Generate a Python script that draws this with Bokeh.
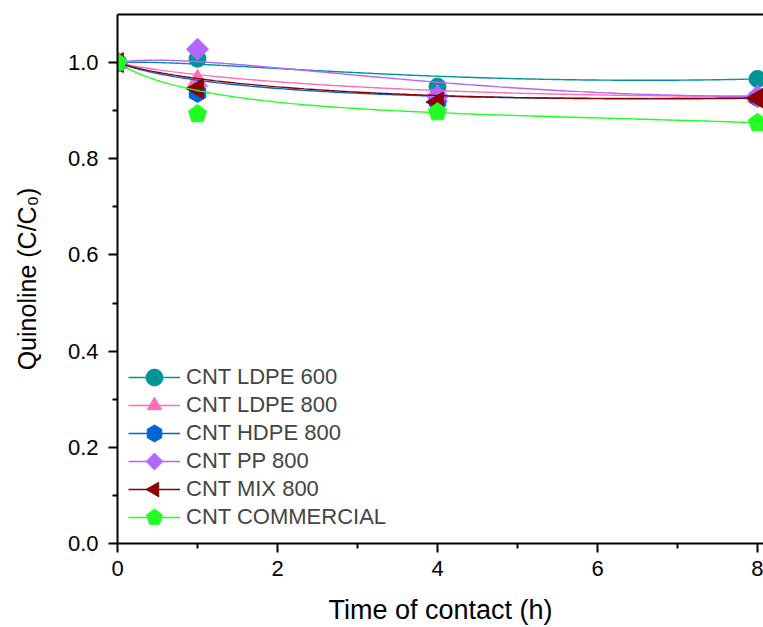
import numpy as np
from math import comb
from bokeh.plotting import figure
from bokeh.models import Range1d, LinearAxis, Legend, LegendItem, NumeralTickFormatter, FixedTicker
from bokeh.embed import file_html
from bokeh.resources import INLINE

# ---- data ----
time_h = [0, 1, 4, 8]
series_names = ["CNT LDPE 600", "CNT LDPE 800", "CNT HDPE 800", "CNT PP 800", "CNT MIX 800", "CNT COMMERCIAL"]
ldpe600 = [1.000, 1.008, 0.950, 0.966]
ldpe800 = [1.000, 0.962, 0.930, 0.930]
hdpe800 = [1.000, 0.937, 0.920, 0.927]
pp800 = [1.000, 1.028, 0.930, 0.930]
mix800 = [1.000, 0.946, 0.918, 0.926]
commercial = [1.000, 0.893, 0.897, 0.875]
x_ticks = [0, 2, 4, 6, 8]
y_ticks = [0.0, 0.2, 0.4, 0.6, 0.8, 1.0]

colors = ["#009494", "#FF6EB4", "#0066D6", "#B266FF", "#8B0000", "#22FF22"]
# (kind, marker or n-sides, size/radius, angle)
styles = [("scatter", "circle", 17, 0),
          ("ngon", 3, 11.5, 0),
          ("ngon", 6, 9.5, 0),
          ("ngon", 4, 11, 0),
          ("ngon", 3, 11.5, np.pi / 2),
          ("ngon", 5, 9.5, 0)]
all_series = [ldpe600, ldpe800, hdpe800, pp800, mix800, commercial]


def bspline_curve(xs, ys, n=200):
    """Clamped cubic B-spline with the data points as control points."""
    pts = np.column_stack([xs, ys]).astype(float)
    k = len(pts) - 1
    t = np.linspace(0, 1, n)[:, None]
    curve = sum(comb(k, i) * t**i * (1 - t)**(k - i) * pts[i] for i in range(k + 1))
    return curve[:, 0], curve[:, 1]


FONT = "Liberation Sans"

p = figure(width=763, height=627, output_backend="svg", toolbar_location=None,
           x_range=Range1d(0, 8.075), y_range=Range1d(0, 1.1),
           min_border_left=117, min_border_right=0, min_border_top=14, min_border_bottom=83)
p.outline_line_color = None
p.grid.visible = False
p.background_fill_color = "white"

for ax in [p.xaxis[0], p.yaxis[0]]:
    ax.axis_line_width = 2
    ax.major_tick_line_width = 2
    ax.minor_tick_line_width = 2
    ax.major_tick_out = 9
    ax.major_tick_in = 0
    ax.minor_tick_out = 5
    ax.minor_tick_in = 0
    ax.major_label_text_font = FONT
    ax.major_label_text_font_size = "22px"
    ax.major_label_text_color = "black"
    ax.axis_label_text_font = FONT
    ax.axis_label_text_font_style = "normal"
    ax.axis_label_text_color = "black"

p.xaxis[0].ticker = FixedTicker(ticks=x_ticks, minor_ticks=[1, 3, 5, 7])
p.yaxis[0].ticker = FixedTicker(ticks=y_ticks, minor_ticks=[0.1, 0.3, 0.5, 0.7, 0.9])
p.yaxis[0].formatter = NumeralTickFormatter(format="0.0")
p.xaxis[0].axis_label = "Time of contact (h)"
p.yaxis[0].axis_label = "Quinoline (C/C\u2080)"
p.xaxis[0].axis_label_text_font_size = "27px"
p.yaxis[0].axis_label_text_font_size = "25px"
p.xaxis[0].major_label_standoff = 8
p.yaxis[0].major_label_standoff = 10
p.xaxis[0].axis_label_standoff = 16
p.yaxis[0].axis_label_standoff = 24

top = LinearAxis(axis_line_width=2, major_tick_line_color=None, minor_tick_line_color=None,
                 major_label_text_font_size="0px", major_label_standoff=0)
top.ticker = FixedTicker(ticks=[])
p.add_layout(top, "above")

items = []
for name, ys, c, st in zip(series_names, all_series, colors, styles):
    cx, cy = bspline_curve(time_h, ys)
    lr = p.line(cx, cy, line_color=c, line_width=1.4)
    kind, m, s, a = st
    if kind == "ngon":
        mr = p.ngon(x=time_h, y=ys, radius=s, radius_units="screen", n=m,
                    fill_color=c, line_color=c, angle=a)
    else:
        mr = p.scatter(x=time_h, y=ys, marker=m, size=s, angle=a,
                       fill_color=c, line_color=c)
    items.append(LegendItem(label=name, renderers=[lr, mr]))

# one legend box per entry, so rows can sit closer than the glyph box height
row_pitch = 28
first_row_offset = 145
for i, item in enumerate(items):
    lg = Legend(items=[item], location=(11, first_row_offset - i * row_pitch), padding=0, margin=0,
                spacing=0, glyph_width=52, glyph_height=42, label_standoff=6,
                label_text_font=FONT, label_text_font_size="22px", label_height=20,
                background_fill_alpha=0, border_line_color=None)
    p.add_layout(lg, "center")

open("out.html", "w").write(file_html(p, INLINE))
